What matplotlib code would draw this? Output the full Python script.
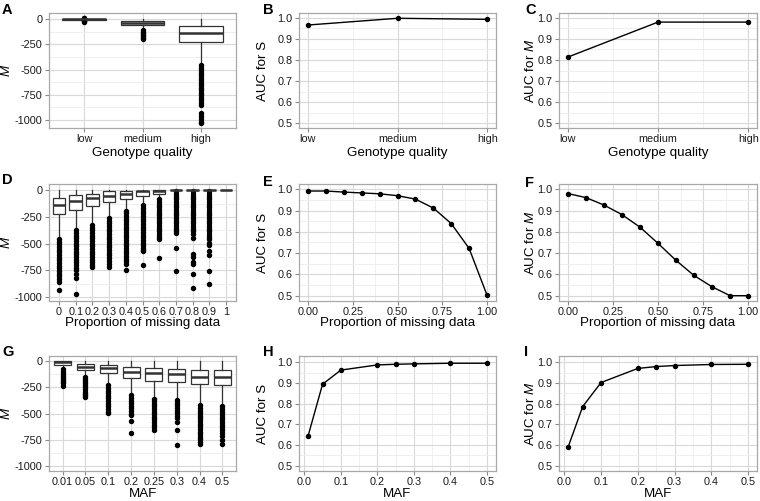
import matplotlib
matplotlib.use('Agg')
import matplotlib.pyplot as plt
from matplotlib.ticker import MultipleLocator, FixedLocator

plt.rcParams['font.family'] = ['Liberation Sans', 'DejaVu Sans']
plt.rcParams['mathtext.fontset'] = 'custom'
plt.rcParams['mathtext.rm'] = 'Liberation Sans'
plt.rcParams['mathtext.it'] = 'Liberation Sans:italic'

# ---------------- data ----------------
gq_labels = ['low', 'medium', 'high']
gq_box = {  # whislo, q1, med, q3, whishi
    'low':    (-12, -5, -2, 0, 6),
    'medium': (-100, -58, -38, -15, 0),
    'high':   (-440, -225, -136, -66, 0),
}
gq_fliers = {
    'low': [12, 8, -15, -20, -25],
    'medium': [-110, -125, -140, -155, -170, -185, -195],
    'high': [-455, -480, -505, -530, -555, -580, -605, -630, -655, -680, -705, -730,
             -755, -780, -805, -830, -850, -934, -960, -993, -1016, -1033],
}
gq_auc_s = [0.965, 0.997, 0.992]
gq_auc_m = [0.813, 0.979, 0.979]

miss_labels = ['0', '0.1', '0.2', '0.3', '0.4', '0.5', '0.6', '0.7', '0.8', '0.9', '1']
miss_box = [
    (-440, -226, -136, -71, 0),
    (-360, -180, -102, -46, 0),
    (-315, -149, -71, -34, 0),
    (-250, -108, -56, -9, 0),
    (-180, -84, -37, -9, 0),
    (-130, -56, -9, -3, 0),
    (-80, -34, -3, 0, 0),
    (-2, -1, 0, 0, 0),
    (-2, -1, 0, 0, 0),
    (-2, -1, 0, 0, 0),
    (0, 0, 0, 0, 0),
]
miss_fliers = [
    [-455, -480, -505, -530, -555, -580, -605, -630, -655, -680, -705, -730, -755, -780, -805, -830, -855, -938],
    [-375, -400, -425, -450, -475, -500, -525, -550, -575, -600, -625, -650, -675, -700, -725, -750, -783, -823, -969],
    [-325, -350, -375, -400, -425, -450, -475, -500, -525, -550, -575, -600, -625, -650, -675, -700, -720],
    [-260, -285, -310, -335, -360, -385, -410, -435, -460, -485, -510, -535, -560, -585, -610, -630, -660, -690, -721],
    [-190, -215, -240, -265, -290, -315, -340, -365, -390, -415, -440, -465, -490, -515, -540, -565, -590, -615, -640, -665, -690, -746],
    [-140, -165, -190, -215, -240, -265, -290, -315, -340, -365, -390, -415, -440, -465, -490, -515, -536, -560, -573, -697],
    [-85, -110, -135, -160, -185, -210, -235, -260, -285, -310, -335, -360, -385, -410, -435, -458, -635],
    [-10, -35, -60, -85, -110, -135, -160, -185, -210, -235, -260, -285, -310, -335, -360, -385, -396, -542, -752],
    [-10, -35, -60, -85, -110, -135, -160, -185, -210, -235, -260, -285, -310, -335, -360, -385, -410, -443, -598, -628, -675, -690, -783, -913],
    [-10, -35, -60, -85, -110, -135, -160, -185, -210, -235, -260, -285, -310, -335, -360, -385, -410, -435, -460, -489, -511, -573, -604, -752, -876],
    [],
]
miss_x = [0.0, 0.1, 0.2, 0.3, 0.4, 0.5, 0.6, 0.7, 0.8, 0.9, 1.0]
miss_auc_s = [0.992, 0.992, 0.987, 0.983, 0.979, 0.970, 0.954, 0.912, 0.839, 0.722, 0.502]
miss_auc_m = [0.980, 0.961, 0.926, 0.881, 0.822, 0.746, 0.666, 0.595, 0.542, 0.500, 0.500]

maf_labels = ['0.01', '0.05', '0.1', '0.2', '0.25', '0.3', '0.4', '0.5']
maf_box = [
    (-75, -38, -12, 3, 5),
    (-145, -86, -54, -29, 0),
    (-225, -117, -70, -38, 0),
    (-320, -165, -102, -60, 0),
    (-350, -187, -117, -70, 0),
    (-365, -203, -127, -79, 0),
    (-415, -222, -149, -86, 0),
    (-425, -229, -149, -86, 0),
]
maf_fliers = [
    [-80, -100, -120, -140, -160, -180, -200, -213, -238],
    [-150, -170, -190, -210, -230, -250, -270, -290, -310, -325, -340],
    [-230, -255, -280, -305, -330, -355, -380, -405, -430, -455, -483, -498],
    [-325, -350, -375, -400, -425, -450, -475, -500, -514, -568, -683],
    [-356, -380, -405, -430, -455, -480, -505, -530, -555, -580, -605, -630, -657],
    [-371, -395, -420, -445, -470, -495, -520, -545, -578, -651, -794],
    [-419, -445, -470, -495, -520, -545, -570, -595, -620, -645, -670, -695, -720, -745, -765, -784],
    [-429, -455, -480, -505, -530, -555, -580, -605, -630, -655, -683, -714, -746, -784],
]
maf_x = [0.01, 0.05, 0.1, 0.2, 0.25, 0.3, 0.4, 0.5]
maf_auc_s = [0.642, 0.894, 0.962, 0.987, 0.990, 0.992, 0.995, 0.995]
maf_auc_m = [0.589, 0.786, 0.902, 0.970, 0.979, 0.984, 0.989, 0.990]

# ---------------- style ----------------
BORDER = '#a8a8a8'
MAJ = '#d9d9d9'
MIN = '#efefef'
TICK = '#8a8a8a'
TXT = '#1a1a1a'
LINE = '#333333'

W, H = 760, 501
fig = plt.figure(figsize=(W / 100, H / 100), dpi=100)

cols = [(49, 236), (299, 496), (559, 757)]
rows = [(13, 128), (184, 301), (356, 471)]


def add_ax(c, r):
    l, rr = cols[c]
    t, b = rows[r]
    return fig.add_axes([l / W, 1 - b / H, (rr - l) / W, (b - t) / H])


def style(ax):
    ax.set_facecolor('white')
    for s in ax.spines.values():
        s.set_color(BORDER)
        s.set_linewidth(0.9)
    ax.tick_params(which='major', length=3, width=0.8, color=TICK,
                   labelsize=7.8, labelcolor=TXT, pad=1.5)
    ax.tick_params(which='minor', length=0)
    ax.grid(which='major', color=MAJ, lw=0.8)
    ax.grid(which='minor', color=MIN, lw=0.7)
    ax.set_axisbelow(True)


def boxpanel(ax, labels, boxes, fliers, ylim):
    stats = []
    for (lo, q1, med, q3, hi), fl in zip(boxes, fliers):
        stats.append(dict(whislo=lo, q1=q1, med=med, q3=q3, whishi=hi, fliers=fl))
    pos = list(range(1, len(labels) + 1))
    ax.bxp(stats, positions=pos, widths=0.75, patch_artist=True, showcaps=False,
           boxprops=dict(facecolor='white', edgecolor=LINE, lw=0.9),
           medianprops=dict(color=LINE, lw=1.8),
           whiskerprops=dict(color=LINE, lw=0.9),
           flierprops=dict(marker='o', markersize=2.9, markerfacecolor='black',
                           markeredgecolor='black', linestyle='none'))
    ax.set_xticks(pos)
    ax.set_xticklabels(labels)
    ax.set_xlim(0.4, len(labels) + 0.6)
    ax.set_ylim(*ylim)
    ax.yaxis.set_major_locator(FixedLocator([0, -250, -500, -750, -1000]))
    ax.yaxis.set_minor_locator(FixedLocator([-125, -375, -625, -875]))
    ax.set_yticklabels(['0', '-250', '-500', '-750', '-1000'])
    style(ax)
    ax.grid(which='minor', axis='x', visible=False)


def auc_axis(ax, ylim=(0.475, 1.025)):
    ax.set_ylim(*ylim)
    ax.yaxis.set_major_locator(FixedLocator([0.5, 0.6, 0.7, 0.8, 0.9, 1.0]))
    ax.yaxis.set_minor_locator(FixedLocator([0.55, 0.65, 0.75, 0.85, 0.95]))
    ax.set_yticklabels(['0.5', '0.6', '0.7', '0.8', '0.9', '1.0'])


def line(ax, x, y):
    ax.plot(x, y, color='black', lw=1.0, marker='o', markersize=2.9, zorder=3)


# Row 1
axA = add_ax(0, 0)
boxpanel(axA, gq_labels, [gq_box[k] for k in gq_labels], [gq_fliers[k] for k in gq_labels], (-1080, 62))

for c, vals in ((1, gq_auc_s), (2, gq_auc_m)):
    ax = add_ax(c, 0)
    line(ax, [1, 2, 3], vals)
    ax.set_xlim(0.905, 3.095)
    ax.set_xticks([1, 2, 3])
    ax.set_xticklabels(gq_labels)
    ax.xaxis.set_minor_locator(FixedLocator([1.5, 2.5]))
    auc_axis(ax, (0.478, 1.022))
    style(ax)

# Row 2
axD = add_ax(0, 1)
boxpanel(axD, miss_labels, miss_box, miss_fliers, (-1037, 59))

for c, vals in ((1, miss_auc_s), (2, miss_auc_m)):
    ax = add_ax(c, 1)
    line(ax, miss_x, vals)
    ax.set_xlim(-0.05, 1.05)
    ax.xaxis.set_major_locator(FixedLocator([0, 0.25, 0.5, 0.75, 1.0]))
    ax.xaxis.set_minor_locator(FixedLocator([0.125, 0.375, 0.625, 0.875]))
    ax.set_xticklabels(['0.00', '0.25', '0.50', '0.75', '1.00'])
    auc_axis(ax)
    style(ax)

# Row 3
axG = add_ax(0, 2)
boxpanel(axG, maf_labels, maf_box, maf_fliers, (-1045, 48))

for c, vals in ((1, maf_auc_s), (2, maf_auc_m)):
    ax = add_ax(c, 2)
    line(ax, maf_x, vals)
    ax.set_xlim(-0.0145, 0.5245)
    ax.xaxis.set_major_locator(FixedLocator([0, 0.1, 0.2, 0.3, 0.4, 0.5]))
    ax.xaxis.set_minor_locator(FixedLocator([0.05, 0.15, 0.25, 0.35, 0.45]))
    ax.set_xticklabels(['0.0', '0.1', '0.2', '0.3', '0.4', '0.5'])
    auc_axis(ax, (0.475, 1.03))
    style(ax)

# ---------------- text ----------------
def ftext(x, y, s, **kw):
    fig.text(x / W, 1 - y / H, s, **kw)

TS = 9.6
xlabels = ['Genotype quality', 'Proportion of missing data', 'MAF']
xlab_y = [153, 323, 494]
for r in range(3):
    for c in range(3):
        cx = (cols[c][0] + cols[c][1]) / 2
        ftext(cx, xlab_y[r], xlabels[r], ha='center', va='center', fontsize=TS, color='black')

ylab_x = [6.5, 262.5, 531]
ylabels = ['$\\it{M}$', 'AUC for S', 'AUC for $\\it{M}$']
for r in range(3):
    cy = (rows[r][0] + rows[r][1]) / 2
    for c in range(3):
        ftext(ylab_x[c], cy, ylabels[c], ha='center', va='center', rotation=90,
              fontsize=TS, color='black')

letters = [('A', 2, 3), ('B', 263, 3), ('C', 525, 3),
           ('D', 2, 173), ('E', 263, 175), ('F', 525, 176),
           ('G', 2, 345), ('H', 263, 345), ('I', 524, 345)]
for s, x, y in letters:
    ftext(x, y, s, ha='left', va='top', fontsize=10.5, fontweight='bold', color='black')

fig.savefig('out.png', dpi=100, facecolor='white')
